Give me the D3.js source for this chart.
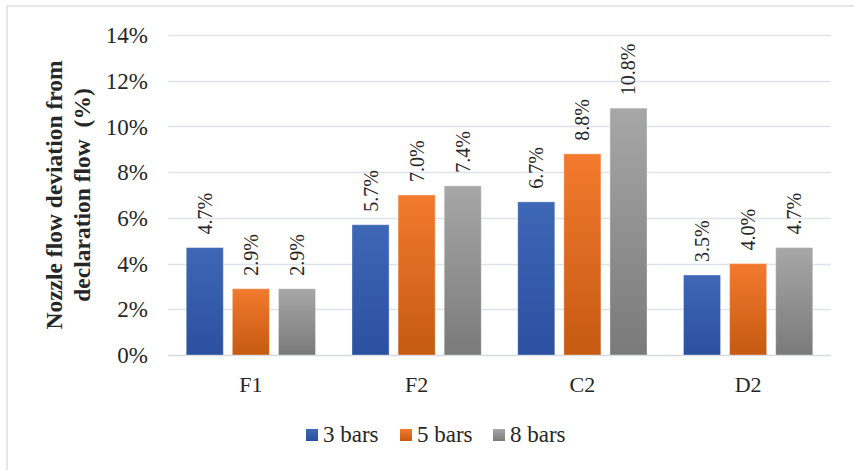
<!DOCTYPE html>
<html>
<head>
<meta charset="utf-8">
<script src="https://cdn.jsdelivr.net/npm/d3@7"></script>
<style>
  html, body { margin: 0; padding: 0; background: #fff; }
  svg { display: block; }
</style>
</head>
<body>
<svg id="chart" width="854" height="470"></svg>
<script>
const categories = ["F1", "F2", "C2", "D2"];
const seriesNames = ["3 bars", "5 bars", "8 bars"];
const bars3 = [4.7, 5.7, 6.7, 3.5];
const bars5 = [2.9, 7.0, 8.8, 4.0];
const bars8 = [2.9, 7.4, 10.8, 4.7];
const yTicks = [0, 2, 4, 6, 8, 10, 12, 14];
const yTitle = ["Nozzle flow deviation from", "declaration flow\u00A0\u00A0(%)"];

const seriesValues = [bars3, bars5, bars8];
const colors = [
  { top: "#3e67b5", bottom: "#2b509f" },
  { top: "#f37a2e", bottom: "#c55a11" },
  { top: "#a7a7a7", bottom: "#7a7a7a" }
];

const svg = d3.select("#chart");
const W = 854, H = 470;
const plot = { left: 168, right: 831, top: 35, bottom: 355 };
const font = "'Liberation Serif', 'Times New Roman', serif";
const textColor = "#262626";

// frame
svg.append("rect").attr("x", 7).attr("y", 6).attr("width", W + 10).attr("height", H + 10)
  .attr("fill", "#fff").attr("stroke", "#e6e6e6").attr("stroke-width", 2);

// gradients
const defs = svg.append("defs");
colors.forEach((c, i) => {
  const g = defs.append("linearGradient").attr("id", "grad" + i)
    .attr("x1", 0).attr("y1", 0).attr("x2", 0).attr("y2", 1);
  g.append("stop").attr("offset", "0%").attr("stop-color", c.top);
  g.append("stop").attr("offset", "100%").attr("stop-color", c.bottom);
});

const y = d3.scaleLinear().domain([0, 14]).range([plot.bottom, plot.top]);
const x0 = d3.scaleBand().domain(categories).range([plot.left, plot.right])
  .paddingInner(0.22).paddingOuter(0.11);
const x1 = d3.scaleBand().domain(d3.range(seriesNames.length)).range([0, x0.bandwidth()])
  .paddingInner(0.196).paddingOuter(0);

// gridlines
svg.append("g").selectAll("line").data(yTicks).join("line")
  .attr("x1", plot.left).attr("x2", plot.right)
  .attr("y1", d => Math.round(y(d)) + 0.5).attr("y2", d => Math.round(y(d)) + 0.5)
  .attr("stroke", d => d === 0 ? "#d6d9e0" : "#dfe2ea").attr("stroke-width", 1.5);

// y axis labels
const yAxis = d3.axisLeft(y).tickValues(yTicks).tickFormat(d => d + "%").tickSize(0).tickPadding(0);
const yg = svg.append("g").attr("transform", `translate(148,0)`).call(yAxis);
yg.select(".domain").remove();
yg.attr("font-family", font);
yg.selectAll("text").attr("font-family", font).attr("font-size", 23).attr("fill", textColor)
  .attr("dy", "0.33em");

// y title
const tg = svg.append("text").attr("transform", `translate(0,195) rotate(-90)`)
  .attr("text-anchor", "middle").attr("font-family", font).attr("font-weight", "bold")
  .attr("font-size", 23.5).attr("fill", textColor);
tg.append("tspan").attr("x", 0).attr("y", 62).text(yTitle[0]);
tg.append("tspan").attr("x", 0).attr("y", 90).text(yTitle[1]);

// bars
const groups = svg.append("g").selectAll("g").data(categories).join("g")
  .attr("transform", d => `translate(${x0(d)},0)`);

groups.selectAll("rect").data((c, ci) => seriesValues.map((s, si) => ({ si, v: s[ci] })))
  .join("rect")
  .attr("x", d => x1(d.si))
  .attr("width", x1.bandwidth())
  .attr("y", d => y(d.v))
  .attr("height", d => y(0) - y(d.v))
  .attr("fill", d => `url(#grad${d.si})`)
  .attr("stroke", "rgba(255,255,255,0.35)").attr("stroke-width", 1);

// data labels
groups.selectAll("text").data((c, ci) => seriesValues.map((s, si) => ({ si, v: s[ci] })))
  .join("text")
  .attr("transform", d => `translate(${x1(d.si) + x1.bandwidth() / 2},${y(d.v) - 13}) rotate(-90)`)
  .attr("dy", "0.35em")
  .attr("text-anchor", "start")
  .attr("font-family", font).attr("font-size", 20).attr("fill", textColor)
  .text(d => d.v.toFixed(1) + "%");

// x axis labels
const xAxis = d3.axisBottom(x0).tickSize(0).tickPadding(0);
const xg = svg.append("g").attr("transform", `translate(0,392)`).call(xAxis);
xg.select(".domain").remove();
xg.attr("font-family", font);
xg.selectAll("text").attr("font-family", font).attr("font-size", 22).attr("fill", textColor)
  .attr("dy", 0).attr("y", 0);

// legend
const legendX = [306, 400, 493];
const lg = svg.append("g").selectAll("g").data(seriesNames).join("g")
  .attr("transform", (d, i) => `translate(${legendX[i]},429)`);
lg.append("rect").attr("width", 12).attr("height", 12).attr("fill", (d, i) => `url(#grad${i})`);
lg.append("text").attr("x", 17).attr("y", 13).attr("font-family", font).attr("font-size", 23)
  .attr("fill", textColor).text(d => d);
</script>
</body>
</html>
